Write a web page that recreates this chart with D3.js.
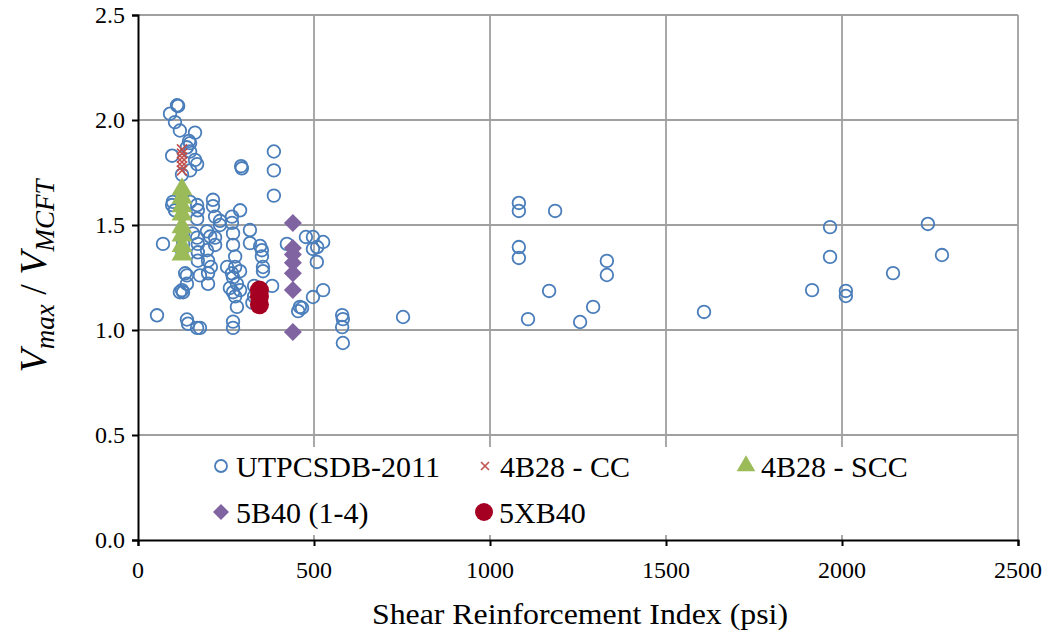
<!DOCTYPE html>
<html>
<head>
<meta charset="utf-8">
<script src="https://cdn.jsdelivr.net/npm/d3@7"></script>
<style>
  html, body { margin: 0; padding: 0; background: #fff; }
  svg { display: block; }
  svg text { font-family: "Liberation Serif", "Times New Roman", Times, serif; }
</style>
</head>
<body>
<svg id="chart" width="1052" height="636"></svg>
<script>
// ---- data ----
const xTicks = [0, 500, 1000, 1500, 2000, 2500];
const yTicks = [0.0, 0.5, 1.0, 1.5, 2.0, 2.5];

const utpcsdb = [
  [54,1.07],[71,1.41],[91,2.03],[97,1.83],[99,1.61],[97,1.595],[105,1.99],[111,2.07],[114,2.067],
  [105,1.57],[119,1.95],[125,1.74],[128,1.46],[128,1.41],[125,1.38],[134,1.27],[139,1.26],[139,1.22],
  [125,1.19],[128,1.18],[119,1.18],[139,1.05],[142,1.03],[168,1.01],[145,1.90],[148,1.89],[139,1.87],
  [148,1.85],[162,1.94],[162,1.81],[168,1.79],[148,1.76],[148,1.61],[168,1.595],[170,1.57],[168,1.53],
  [156,1.46],[168,1.44],[170,1.41],[196,1.47],[205,1.445],[219,1.44],[219,1.405],[196,1.38],[170,1.37],
  [170,1.33],[176,1.26],[199,1.27],[199,1.22],[213,1.62],[213,1.59],[219,1.54],[267,1.54],[267,1.51],
  [270,1.46],[270,1.405],[276,1.35],[276,1.30],[270,1.25],[281,1.22],[290,1.19],[276,1.16],[281,1.11],
  [270,1.04],[270,1.01],[293,1.78],[295,1.77],[290,1.57],[318,1.476],[318,1.414],[347,1.40],[352,1.38],
  [352,1.35],[355,1.30],[355,1.28],[381,1.21],[386,1.85],[386,1.76],[386,1.64],[423,1.41],[253,1.30],
  [261,1.20],[270,1.18],[290,1.28],[267,1.27],[233,1.52],[233,1.50],[199,1.33],[207,1.30],[330,1.21],
  [330,1.16],[325,1.13],[176,1.01],[460,1.11],[455,1.09],[477,1.443],[497,1.443],[526,1.419],
  [497,1.386],[509,1.395],[508,1.324],[526,1.19],[497,1.157],[466,1.105],[580,1.071],[582,1.052],
  [580,1.014],[582,0.938],[753,1.062],
  [1082,1.605],[1082,1.567],[1185,1.567],[1082,1.395],[1082,1.343],[1332,1.329],[1332,1.262],
  [1168,1.186],[1293,1.110],[1108,1.052],[1256,1.038],[1966,1.49],[2244,1.505],[1966,1.348],
  [2284,1.357],[2145,1.271],[1915,1.190],[2011,1.186],[2011,1.162],[1608,1.086]
];
const cc4B28 = [[125,1.86],[125,1.84],[125,1.82],[125,1.80],[125,1.78],[125,1.76],[125,1.55],[125,1.51]];
const scc4B28 = [[125,1.67],[125,1.63],[125,1.59],[125,1.55],[125,1.49],[125,1.45],[125,1.40],[125,1.36]];
const b40 = [[440,1.51],[440,1.39],[440,1.36],[440,1.32],[440,1.27],[440,1.19],[440,0.99]];
const xb40 = [[345,1.19],[345,1.16],[345,1.12]];

const seriesNames = ["UTPCSDB-2011", "4B28 - CC", "4B28 - SCC", "5B40 (1-4)", "5XB40"];

// ---- layout ----
const L = 138, R = 1018, T = 15, B = 540;
const svg = d3.select("#chart");
const x = d3.scaleLinear().domain([0, 2500]).range([L, R]);
const y = d3.scaleLinear().domain([0, 2.5]).range([B, T]);

const blue = "#4a7ebb", red = "#c0504d", green = "#9bbb59", purple = "#8064a2", dred = "#a50021";

// gridlines
svg.append("g").selectAll("line").data(yTicks.filter(d => d > 0)).join("line")
  .attr("x1", L).attr("x2", R).attr("y1", d => y(d)).attr("y2", d => y(d))
  .attr("stroke", "#a0a0a0").attr("stroke-width", 1.8);
svg.append("g").selectAll("line").data(xTicks.filter(d => d > 0)).join("line")
  .attr("x1", d => x(d)).attr("x2", d => x(d)).attr("y1", T).attr("y2", B)
  .attr("stroke", "#a0a0a0").attr("stroke-width", 1.8);

// axes: tick marks and domain from d3.axis
const gy = svg.append("g").attr("transform", `translate(${L},0)`)
  .call(d3.axisLeft(y).tickValues(yTicks).tickFormat("").tickSize(6));
const gx = svg.append("g").attr("transform", `translate(0,${B})`)
  .call(d3.axisBottom(x).tickValues(xTicks).tickFormat("").tickSize(6));
[gx, gy].forEach(g => {
  g.select(".domain").attr("stroke", "#000").attr("stroke-width", 2);
  g.selectAll(".tick line").attr("stroke", "#000").attr("stroke-width", 2);
});

// points
const plot = svg.append("g");
plot.selectAll("circle").data(utpcsdb).join("circle")
  .attr("cx", d => x(d[0])).attr("cy", d => y(d[1])).attr("r", 6.3)
  .attr("fill", "none").attr("stroke", blue).attr("stroke-width", 1.8);
const xs = 5;
const xPath = (cx, cy, s) => `M${cx - s},${cy - s}L${cx + s},${cy + s}M${cx - s},${cy + s}L${cx + s},${cy - s}`;
plot.append("g").selectAll("path").data(cc4B28).join("path")
  .attr("d", d => xPath(x(d[0]), y(d[1]), xs))
  .attr("stroke", red).attr("stroke-width", 1.6).attr("fill", "none");
const tri = d3.symbol().type(d3.symbolTriangle).size(190);
plot.append("g").selectAll("path").data(scc4B28).join("path")
  .attr("d", tri).attr("transform", d => `translate(${x(d[0])},${y(d[1])})`).attr("fill", green);
const dia = "M0,-9L9,0L0,9L-9,0Z";
plot.append("g").selectAll("path").data(b40).join("path")
  .attr("d", dia).attr("transform", d => `translate(${x(d[0])},${y(d[1])})`).attr("fill", purple);
plot.append("g").selectAll("circle").data(xb40).join("circle")
  .attr("cx", d => x(d[0])).attr("cy", d => y(d[1])).attr("r", 9.5).attr("fill", dred);

// legend
svg.append("rect").attr("x", 203).attr("y", 447).attr("width", 800).attr("height", 88).attr("fill", "#fff");
const legItems = [
  { name: seriesNames[0], mx: 221, my: 466, type: "o" },
  { name: seriesNames[1], mx: 485, my: 466, type: "x" },
  { name: seriesNames[2], mx: 746, my: 466, type: "t" },
  { name: seriesNames[3], mx: 221, my: 512, type: "d" },
  { name: seriesNames[4], mx: 484, my: 512, type: "c" }
];
legItems.forEach(it => {
  if (it.type === "o") svg.append("circle").attr("cx", it.mx).attr("cy", it.my).attr("r", 6).attr("fill", "none").attr("stroke", blue).attr("stroke-width", 1.8);
  if (it.type === "x") svg.append("path").attr("d", xPath(it.mx, it.my, 4)).attr("stroke", red).attr("stroke-width", 1.6);
  if (it.type === "t") svg.append("path").attr("d", d3.symbol().type(d3.symbolTriangle).size(150)).attr("transform", `translate(${it.mx},${it.my})`).attr("fill", green);
  if (it.type === "d") svg.append("path").attr("d", "M0,-8L8,0L0,8L-8,0Z").attr("transform", `translate(${it.mx},${it.my})`).attr("fill", purple);
  if (it.type === "c") svg.append("circle").attr("cx", it.mx).attr("cy", it.my).attr("r", 9).attr("fill", dred);
});

// text
const fmtY = d3.format(".1f"), fmtX = d3.format("d");
yTicks.forEach(d => {
  svg.append("text").attr("x", L - 13).attr("y", y(d) + 8).attr("text-anchor", "end")
    .attr("font-size", 24).attr("fill", "#000").text(fmtY(d));
});
xTicks.forEach(d => {
  svg.append("text").attr("x", x(d)).attr("y", B + 38).attr("text-anchor", "middle")
    .attr("font-size", 24).attr("fill", "#000").text(fmtX(d));
});
legItems.forEach(it => {
  svg.append("text").attr("x", it.mx + 15).attr("y", it.my + 11)
    .attr("font-size", 30).attr("fill", "#000").text(it.name);
});

svg.append("text").attr("x", (L + R) / 2 + 2).attr("y", 624).attr("text-anchor", "middle")
  .attr("font-size", 30).attr("fill", "#000")
  .attr("textLength", 416).attr("lengthAdjust", "spacingAndGlyphs")
  .text("Shear Reinforcement Index (psi)");

const yt = svg.append("text").attr("transform", "translate(46,276) rotate(-90)").attr("text-anchor", "middle")
  .attr("font-size", 38).attr("fill", "#000");
yt.append("tspan").attr("font-style", "italic").text("V");
yt.append("tspan").attr("font-style", "italic").attr("font-size", 27).attr("dy", 8).text("max");
yt.append("tspan").attr("dy", -8).text(" / ");
yt.append("tspan").attr("font-style", "italic").text("V");
yt.append("tspan").attr("font-style", "italic").attr("font-size", 27).attr("dy", 8).text("MCFT");
</script>
</body>
</html>
